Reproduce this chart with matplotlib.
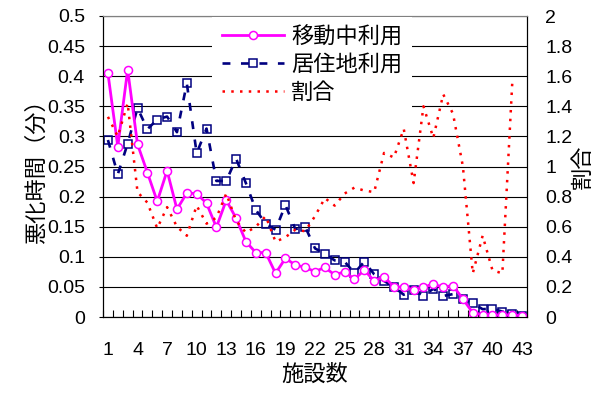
import matplotlib
matplotlib.use("Agg")
from matplotlib import pyplot as plt
from matplotlib.ticker import FixedLocator, FuncFormatter
import numpy as np

plt.rcParams['font.family'] = ['Liberation Sans', 'Noto Sans CJK JP']

facilities = list(range(1, 44))
tick_facilities = list(range(1, 44, 3))

# 移動中利用 (分)
moving = [0.405, 0.283, 0.411, 0.287, 0.240, 0.192, 0.243, 0.179, 0.206, 0.205,
          0.189, 0.149, 0.194, 0.164, 0.125, 0.107, 0.107, 0.0725, 0.0975, 0.0864,
          0.0825, 0.0753, 0.0825, 0.0698, 0.0753, 0.0626, 0.078, 0.060, 0.067, 0.050,
          0.050, 0.045, 0.050, 0.054, 0.050, 0.052, 0.030, 0.007, 0.004, 0.004,
          0.003, 0.004, 0.002]
# 居住地利用 (分)
residence = [0.294, 0.237, 0.288, 0.347, 0.312, 0.328, 0.333, 0.307, 0.388, 0.272,
             0.313, 0.226, 0.226, 0.263, 0.222, 0.178, 0.155, 0.145, 0.186, 0.146,
             0.150, 0.114, 0.105, 0.094, 0.092, 0.073, 0.092, 0.071, 0.060, 0.050,
             0.037, 0.045, 0.035, 0.047, 0.035, 0.038, 0.030, 0.023, 0.013, 0.014,
             0.009, 0.005, 0.002]
# 割合 (right axis), last facility has no value
ratio = [1.33, 1.20, 1.42, 0.83, 0.76, 0.59, 0.73, 0.60, 0.54, 0.74,
         0.62, 0.66, 0.82, 0.64, 0.56, 0.60, 0.67, 0.50, 0.53, 0.58,
         0.57, 0.67, 0.79, 0.74, 0.82, 0.86, 0.84, 0.83, 1.09, 1.06,
         1.25, 0.89, 1.40, 1.19, 1.48, 1.35, 1.00, 0.29, 0.54, 0.31,
         0.29, 1.55, np.nan]

fig = plt.figure(figsize=(6.02, 3.94), dpi=100)
ax = fig.add_axes([103/602, 1 - 317/394, 424/602, 301/394])
ax2 = ax.twinx()

l1, = ax.plot(facilities, moving, '-', color='#FF00FF', lw=2.0, marker='o',
              markersize=5.8, markerfacecolor='white', markeredgecolor='#FF00FF',
              markeredgewidth=1.1, zorder=4)
l2, = ax.plot(facilities, residence, color='#000080', lw=1.9, dashes=(3, 4),
              marker='s', markersize=5.6, markerfacecolor='none',
              markeredgecolor='#000080', markeredgewidth=1.1, zorder=3)
l3, = ax2.plot(facilities, ratio, color='#FF0000', lw=1.8,
               linestyle=(0, (1, 2.5)), zorder=2)

ax.set_xlim(0.5, 43.5)
ax.set_ylim(0, 0.5)
ax2.set_ylim(0, 2)

ax.set_yticks(np.arange(0, 0.501, 0.05))
ax.yaxis.set_major_formatter(FuncFormatter(lambda v, p: ('%.2f' % v).rstrip('0').rstrip('.')))
ax2.set_yticks(np.arange(0, 2.01, 0.2))
ax2.yaxis.set_major_formatter(FuncFormatter(lambda v, p: ('%.1f' % v).rstrip('0').rstrip('.')))

ax.set_xticks(tick_facilities)
ax.xaxis.set_minor_locator(FixedLocator(np.arange(0.5, 44, 1)))
ax.tick_params(axis='x', which='major', length=0, pad=18, labelsize=14)
ax.tick_params(axis='x', which='minor', direction='in', length=5, width=0.8)
ax.tick_params(axis='y', length=3, width=0.8, pad=10, labelsize=14)
ax2.tick_params(axis='y', length=0, pad=13, labelsize=14)

ax.grid(axis='y', color='black', lw=0.8)
ax.set_axisbelow(True)
ax.spines['top'].set_color('#808080')
ax2.spines['top'].set_color('#808080')

ax.set_ylabel('悪化時間（分）', fontsize=16, labelpad=-1)
ax2.set_ylabel('割合', fontsize=16, labelpad=0)
ax.set_xlabel('施設数', fontsize=16, labelpad=4)

leg = ax2.legend([l1, l2, l3], ['移動中利用', '居住地利用', '割合'],
                 loc='upper left', bbox_to_anchor=(212/602, 1 - 17/394),
                 bbox_transform=fig.transFigure, fontsize=16, numpoints=1,
                 handlelength=2.8, handletextpad=0.3, labelspacing=0.3,
                 borderpad=0.45, borderaxespad=0, frameon=True, fancybox=False,
                 framealpha=1)
leg.get_frame().set_edgecolor('none')
leg.get_frame().set_facecolor('white')

plt.savefig('out.png', dpi=100)
